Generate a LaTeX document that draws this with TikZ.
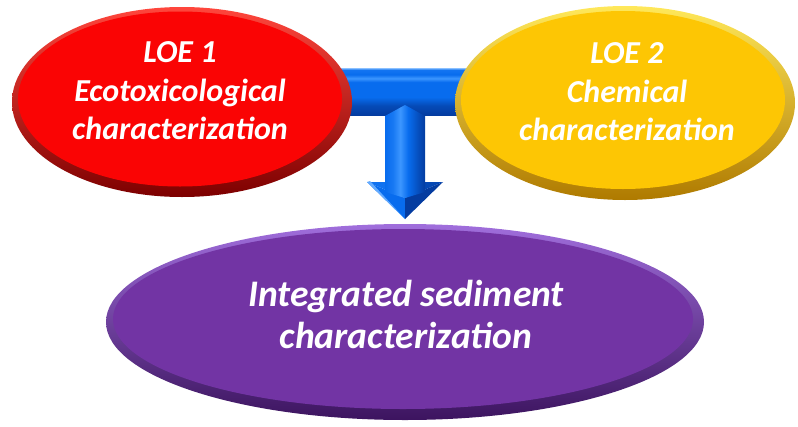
\documentclass[tikz,border=0pt]{standalone}
\usepackage{fontspec}
\setmainfont{Carlito}
\usetikzlibrary{shapes.geometric}

\definecolor{redmain}{RGB}{250,4,4}
\definecolor{redlight}{RGB}{255,70,60}
\definecolor{reddark}{RGB}{125,0,0}
\definecolor{yelmain}{RGB}{253,198,4}
\definecolor{yellight}{RGB}{255,232,90}
\definecolor{yeldark}{RGB}{175,122,0}
\definecolor{purmain}{RGB}{114,52,164}
\definecolor{purlight}{RGB}{160,110,220}
\definecolor{purdark}{RGB}{60,20,95}
\definecolor{bluemain}{RGB}{8,108,238}
\definecolor{bluelight}{RGB}{60,150,255}
\definecolor{bluedark}{RGB}{4,60,160}

% tube-like profiles for the connector (path spans 25bp..75bp)
\pgfdeclareverticalshading{barshade}{100bp}{%
  color(0bp)=(bluedark); color(25bp)=(bluedark);
  color(35bp)=(bluedark!70!bluemain); color(44bp)=(bluemain);
  color(60bp)=(bluemain); color(64bp)=(bluelight);
  color(68bp)=(bluemain); color(73bp)=(bluemain!80!bluelight);
  color(75bp)=(bluelight!60!white); color(100bp)=(bluelight!60!white)}
\pgfdeclarehorizontalshading{stemshade}{100bp}{%
  color(0bp)=(bluemain); color(25bp)=(bluemain);
  color(35bp)=(bluemain!70!bluelight); color(44bp)=(bluelight);
  color(54bp)=(bluemain); color(66bp)=(bluedark!60!bluemain);
  color(75bp)=(bluedark); color(100bp)=(bluedark)}

\tikzset{
  rim/.style={ellipse, inner sep=0pt, outer sep=0pt, shading=axis, shading angle=20},
  face/.style={ellipse, inner sep=0pt, outer sep=0pt},
  caption/.style={align=center, text=white, inner sep=0pt,
    font=\fontsize{32}{38.5}\selectfont\bfseries\itshape},
  bigcaption/.style={align=center, text=white, inner sep=0pt,
    font=\fontsize{37.5}{42}\selectfont\bfseries\itshape},
}

\begin{document}
\begin{tikzpicture}[x=1pt,y=-1pt]
\useasboundingbox (0,0) rectangle (798,426);

% integrated result (bottom)
\node[rim, minimum width=598pt, minimum height=196pt,
      top color=purlight, bottom color=purdark] (integ) at (405,322) {};
\node[face, minimum width=580pt, minimum height=180pt, fill=purmain] (integface) at (403,319) {};
\node[bigcaption] (integtext) at (406,314) {Integrated sediment\\characterization};

% block connector: horizontal bar, stem and arrow head
\coordinate (barL) at (335,68);
\coordinate (barR) at (478,115);
\coordinate (stemTL) at (385,116);
\coordinate (stemTop) at (405,105);
\coordinate (stemTR) at (425,116);
\coordinate (stemBL) at (385,192);
\coordinate (stemBR) at (425,192);
\coordinate (headL) at (367,182);
\coordinate (headR) at (443,182);
\coordinate (headTM) at (405,182);
\coordinate (headM) at (405,198);
\coordinate (tip) at (405,219);

\shade[shading=barshade] (barL) rectangle (barR);

% arrow head facets
\fill[bluemain!85!bluelight] (headL) -- (headTM) -- (headM) -- cycle;
\fill[bluedark!75!bluemain] (headTM) -- (headR) -- (headM) -- cycle;
\fill[bluemain] (headL) -- (headM) -- (tip) -- cycle;
\fill[bluedark] (headM) -- (headR) -- (tip) -- cycle;
\fill[bluelight!80!white] (headL) -- ([xshift=3pt,yshift=1pt]headL) -- (tip) -- cycle;

% stem with pointed top, running into the head
\shade[shading=stemshade] (stemBL) -- (stemTL) -- (stemTop) -- (stemTR) -- (stemBR)
  -- (headM) -- cycle;

% line of evidence 1
\node[rim, minimum width=340pt, minimum height=190pt,
      top color=redlight, bottom color=reddark] (loe1) at (182,102) {};
\node[face, minimum width=324pt, minimum height=175pt, fill=redmain] (loe1face) at (180,99) {};
\node[caption] (loe1text) at (180,91) {LOE 1\\Ecotoxicological\\characterization};

% line of evidence 2
\node[rim, minimum width=340pt, minimum height=194pt,
      top color=yellight, bottom color=yeldark] (loe2) at (625,103) {};
\node[face, minimum width=324pt, minimum height=178pt, fill=yelmain] (loe2face) at (623,100) {};
\node[caption] (loe2text) at (627,92) {LOE 2\\Chemical\\characterization};
\end{tikzpicture}
\end{document}
